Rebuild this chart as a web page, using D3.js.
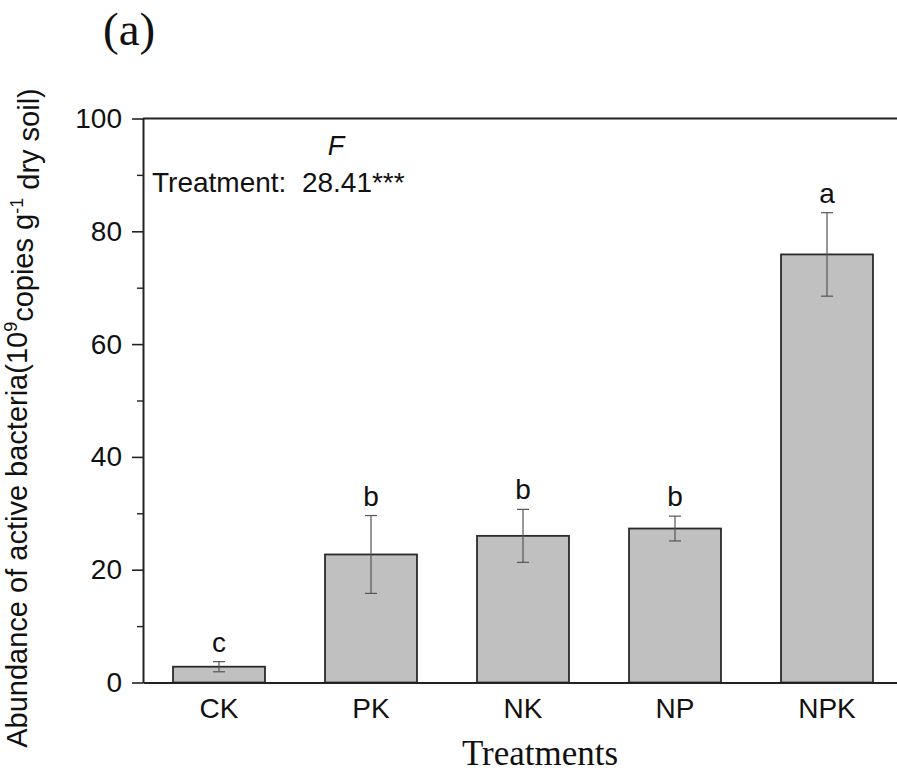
<!DOCTYPE html>
<html>
<head>
<meta charset="utf-8">
<script src="https://cdn.jsdelivr.net/npm/d3@7"></script>
<style>
body { margin: 0; background: #fff; }
text { font-family: "Liberation Sans", Arial, sans-serif; fill: #111; }
.serif { font-family: "Liberation Serif", "Times New Roman", serif; }
</style>
</head>
<body>
<div id="chart"></div>
<script>
var treatments = ["CK", "PK", "NK", "NP", "NPK"];
var abundance = [2.8, 22.7, 26.0, 27.3, 75.9];
var stdErr = [0.9, 6.9, 4.7, 2.2, 7.4];
var letters = ["c", "b", "b", "b", "a"];
var yTicks = [0, 20, 40, 60, 80, 100];
var yMinorTicks = [10, 30, 50, 70, 90];

var svgWidth = 897, svgHeight = 780;
var plotLeft = 143, plotRight = 903, plotTop = 118.5, plotBottom = 682.5;

var svg = d3.select("#chart").append("svg")
    .attr("width", svgWidth)
    .attr("height", svgHeight);

var x = d3.scaleBand()
    .domain(treatments)
    .range([plotLeft, plotRight])
    .paddingInner(0.395)
    .paddingOuter(0.1975);

var y = d3.scaleLinear()
    .domain([0, 100])
    .range([plotBottom, plotTop]);

var data = treatments.map(function(t, i) {
    return { name: t, value: abundance[i], err: stdErr[i], letter: letters[i] };
});

// bars
svg.append("g").selectAll("rect")
    .data(data)
    .enter().append("rect")
    .attr("x", function(d) { return x(d.name); })
    .attr("y", function(d) { return y(d.value); })
    .attr("width", x.bandwidth())
    .attr("height", function(d) { return y(0) - y(d.value); })
    .attr("fill", "#c0c0c0")
    .attr("stroke", "#2a2a2a")
    .attr("stroke-width", 1.8);

// error bars
var eb = svg.append("g").attr("stroke", "#555").attr("stroke-width", 1.2);
data.forEach(function(d) {
    var cx = x(d.name) + x.bandwidth() / 2;
    eb.append("line")
        .attr("x1", cx).attr("x2", cx)
        .attr("y1", y(d.value + d.err)).attr("y2", y(d.value - d.err));
    [d.value + d.err, d.value - d.err].forEach(function(v) {
        eb.append("line")
            .attr("x1", cx - 6).attr("x2", cx + 6)
            .attr("y1", y(v)).attr("y2", y(v));
    });
});

// significance letters
svg.append("g").selectAll("text")
    .data(data)
    .enter().append("text")
    .attr("x", function(d) { return x(d.name) + x.bandwidth() / 2; })
    .attr("y", function(d) { return y(d.value + d.err) - 10; })
    .attr("text-anchor", "middle")
    .attr("font-size", 28)
    .text(function(d) { return d.letter; });

// top frame line
svg.append("line")
    .attr("x1", plotLeft).attr("x2", plotRight)
    .attr("y1", y(100)).attr("y2", y(100))
    .attr("stroke", "#222")
    .attr("stroke-width", 2);

// y axis
var yAxis = svg.append("g")
    .attr("transform", "translate(" + plotLeft + ",0)")
    .call(d3.axisLeft(y).tickValues(yTicks).tickSize(11).tickSizeOuter(0).tickPadding(10));
yAxis.select(".domain").attr("stroke", "#222").attr("stroke-width", 2);
yAxis.selectAll(".tick line").attr("stroke", "#222").attr("stroke-width", 1.6);
yAxis.selectAll(".tick text").attr("font-size", 28).attr("font-family", "Liberation Sans, Arial, sans-serif").attr("fill", "#111");

var yMinor = svg.append("g")
    .attr("transform", "translate(" + plotLeft + ",0)")
    .call(d3.axisLeft(y).tickValues(yMinorTicks).tickSize(6).tickFormat(""));
yMinor.select(".domain").remove();
yMinor.selectAll(".tick line").attr("stroke", "#222").attr("stroke-width", 1.4);

// x axis
var xAxis = svg.append("g")
    .attr("transform", "translate(0," + plotBottom + ")")
    .call(d3.axisBottom(x).tickSize(0).tickSizeOuter(0).tickPadding(16));
xAxis.select(".domain").attr("stroke", "#222").attr("stroke-width", 2);
xAxis.selectAll(".tick text").attr("font-size", 28).attr("font-family", "Liberation Sans, Arial, sans-serif").attr("fill", "#111");

// annotation
svg.append("text")
    .attr("x", 336).attr("y", 155)
    .attr("text-anchor", "middle")
    .attr("font-size", 27)
    .attr("font-style", "italic")
    .text("F");
svg.append("text")
    .attr("x", 152).attr("y", 192)
    .attr("font-size", 28)
    .attr("xml:space", "preserve")
    .text("Treatment:  28.41***");

// panel label
svg.append("text")
    .attr("class", "serif")
    .attr("x", 103).attr("y", 45)
    .attr("font-size", 47)
    .text("(a)");

// x title
svg.append("text")
    .attr("class", "serif")
    .attr("x", 540).attr("y", 765)
    .attr("text-anchor", "middle")
    .attr("font-size", 35)
    .text("Treatments");

// y title
var yt = svg.append("text")
    .attr("transform", "translate(27,418) rotate(-90)")
    .attr("text-anchor", "middle")
    .attr("font-size", 29);
yt.append("tspan").text("Abundance of active bacteria(10");
yt.append("tspan").attr("dy", "-0.55em").attr("font-size", 18).text("9");
yt.append("tspan").attr("dy", "0.55em").text("copies g");
yt.append("tspan").attr("dy", "-0.55em").attr("font-size", 18).text("-1");
yt.append("tspan").attr("dy", "0.55em").text(" dry soil)");
</script>
</body>
</html>
